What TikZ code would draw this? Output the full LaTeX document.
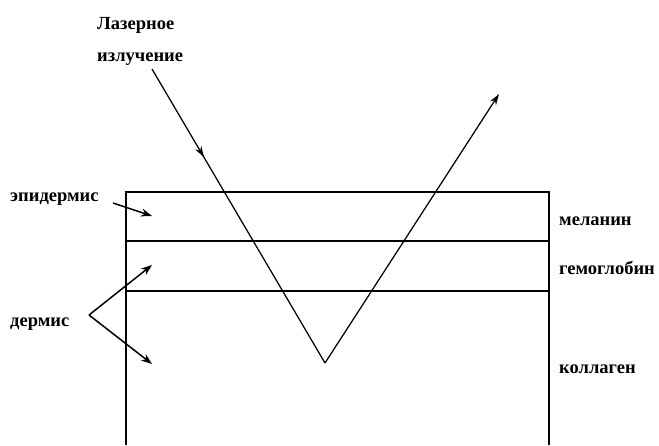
\documentclass[tikz,border=0pt]{standalone}
\usepackage{fontspec}
\setmainfont{Liberation Serif}
\usetikzlibrary{arrows.meta,decorations.markings}
\begin{document}
\begin{tikzpicture}[x=1pt,y=-1pt,
  lbl/.style={font=\bfseries\fontsize{18.5}{20}\selectfont, inner sep=0pt, anchor=base west},
  ln/.style={line width=1.1pt},
  pointer/.style={line width=1.5pt,-{Stealth[length=11pt,width=8pt]}},
  ray/.style={line width=1.25pt}]
\useasboundingbox (0,0) rectangle (659,445);
% box
\coordinate (tl) at (126,192);
\coordinate (tr) at (549,192);
\coordinate (bl) at (126,445);
\coordinate (br) at (549,445);
\coordinate (l1) at (126,241);
\coordinate (r1) at (549,241);
\coordinate (l2) at (126,291);
\coordinate (r2) at (549,291);
\draw[ln] (bl) -- (tl) -- (tr) -- (br);
\draw[ln] (l1) -- (r1);
\draw[ln] (l2) -- (r2);
% ray
\coordinate (rs) at (152,69);
\coordinate (rv) at (325,363);
\coordinate (re) at (499,94);
\draw[ray, postaction={decorate}, decoration={markings, mark=at position 0.3 with {\arrow{Stealth[length=11pt,width=7pt]}}}] (rs) -- (rv);
\draw[ray,-{Stealth[length=11pt,width=7pt]}] (rv) -- (re);
% labels
\node[lbl] (laser1) at (97,29) {Лазерное};
\node[lbl] (laser2) at (97,61) {излучение};
\node[lbl] (epi) at (10,201) {эпидермис};
\node[lbl] (derm) at (10,326) {дермис};
\node[lbl] (mel) at (559,225) {меланин};
\node[lbl] (hem) at (559,274) {гемоглобин};
\node[lbl] (col) at (559,373) {коллаген};
% pointers
\coordinate (ea) at (113,203);
\coordinate (et) at (152,216);
\coordinate (da) at (89,315);
\coordinate (dt1) at (152,265);
\coordinate (dt2) at (152,364);
\draw[pointer] (ea) -- (et);
\draw[pointer] (da) -- (dt1);
\draw[pointer] (da) -- (dt2);
\end{tikzpicture}
\end{document}
